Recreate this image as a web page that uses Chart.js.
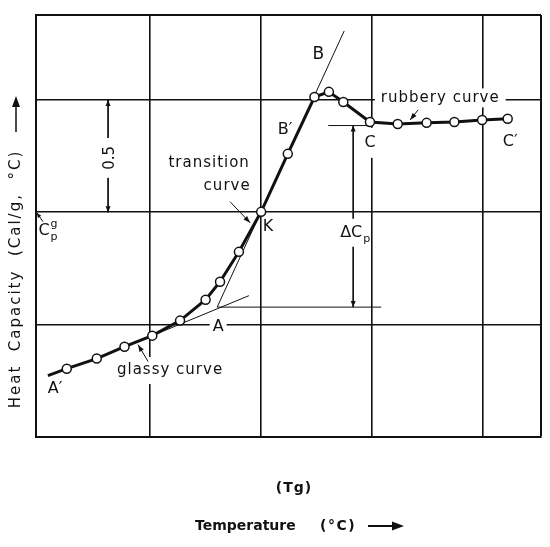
<!DOCTYPE html>
<html>
<head>
<meta charset="utf-8">
<script src="https://cdn.jsdelivr.net/npm/chart.js@4.4.1/dist/chart.umd.min.js"></script>
<style>
  html, body { margin: 0; padding: 0; background: #fff; }
</style>
</head>
<body>
<canvas id="chart" width="550" height="547"></canvas>
<script>
// heat capacity curve, temperature in grid units, Cp in cal/g.°C (0.5 per grid)
const curveTemp = [-0.92, -0.75, -0.48, -0.23, 0.02, 0.27, 0.5, 0.63, 0.8, 1.0,
                   1.24, 1.48, 1.61, 1.74, 1.98, 2.23, 2.49, 2.74, 2.99, 3.22];
const curveCp   = [-0.227, -0.196, -0.151, -0.098, -0.049, 0.018, 0.111, 0.191, 0.324, 0.502,
                   0.760, 1.013, 1.036, 0.991, 0.902, 0.893, 0.898, 0.902, 0.911, 0.916];

// construction lines
const glassyTangentTemp = [0.02, 0.89];
const glassyTangentCp = [-0.049, 0.129];
const transitionTangentTemp = [0.604, 1.748];
const transitionTangentCp = [0.078, 1.307];
const glassyLevelTemp = [0.604, 2.081];
const glassyLevelCp = [0.078, 0.078];
const rubberyLevelTemp = [1.604, 1.982];
const rubberyLevelCp = [0.886, 0.886];
const deltaCpTemp = [1.829, 1.829];
const deltaCpCp = [0.886, 0.078];
const scaleBarTemp = [-0.378, -0.378];
const scaleBarCp = [1.0, 0.5];

// label pointers
const transitionPointerTemp = [0.721, 0.901];
const transitionPointerCp = [0.547, 0.453];
const glassyPointerTemp = [-0.018, -0.108];
const glassyPointerCp = [-0.164, -0.089];
const rubberyPointerTemp = [2.414, 2.342];
const rubberyPointerCp = [0.956, 0.911];
const cpgPointerTemp = [-0.964, -1.02];
const cpgPointerCp = [0.458, 0.498];

// grid
const xGridTicks = [-1.027, 0, 1, 2, 3, 3.52];
const yGridTicks = [-0.5, 0, 0.5, 1.0, 1.378];

const INK = "#111";
const FONT = "'DejaVu Sans', sans-serif";

const zip = (xs, ys) => xs.map((x, i) => ({ x: x, y: ys[i] }));

function thinLine(xs, ys, extra) {
  return Object.assign({
    data: zip(xs, ys),
    showLine: true,
    borderColor: INK,
    borderWidth: 1,
    pointRadius: 0,
    pointHoverRadius: 0,
  }, extra || {});
}

// text annotations (positions in data units)
const annotations = [
  { text: "B", t: 1.514, cp: 1.2, size: 17 },
  { text: "B\u2032", t: 1.216, cp: 0.867, size: 16 },
  { text: "C", t: 1.982, cp: 0.809, size: 16, box: "under", padX: 3, padY: 7 },
  { text: "C\u2032", t: 3.243, cp: 0.813, size: 16 },
  { text: "K", t: 1.063, cp: 0.436, size: 16 },
  { text: "A", t: 0.613, cp: -0.009, size: 16, box: "under", padX: 3, padY: 2 },
  { text: "A\u2032", t: -0.856, cp: -0.284, size: 16 },
  { text: "transition", t: 0.532, cp: 0.72, size: 15, ls: 1 },
  { text: "curve", t: 0.694, cp: 0.618, size: 15, ls: 1 },
  { text: "rubbery curve", t: 2.613, cp: 1.009, size: 15, ls: 1, box: "under", padX: 6, padY: 2 },
  { text: "glassy curve", t: 0.18, cp: -0.204, size: 15, ls: 1, box: "under", padX: 2, padY: 6 },
  { text: "\u0394C", sub: "p", t: 1.847, cp: 0.409, size: 16, box: "over", padX: 0, padY: 6 },
  { text: "0.5", t: -0.36, cp: 0.742, size: 15, rotate: true, box: "over", padX: 8, padY: 2 },
  { text: "C", sub: "p", sup: "g", t: -0.919, cp: 0.418, size: 16 },
];

function setFont(ctx, size, weight) {
  ctx.font = (weight || "normal") + " " + size + "px " + FONT;
}

function labelWidth(ctx, a) {
  setFont(ctx, a.size);
  ctx.letterSpacing = (a.ls || 0) + "px";
  let w = ctx.measureText(a.text).width;
  if (a.sub || a.sup) {
    setFont(ctx, Math.round(a.size * 0.68));
    w += Math.max(ctx.measureText(a.sub || "").width, ctx.measureText(a.sup || "").width) + 1;
  }
  ctx.letterSpacing = "0px";
  return w;
}

function drawBox(ctx, a, x, y) {
  const w = labelWidth(ctx, a) + 2 * (a.padX || 0);
  const h = a.size + 2 * (a.padY || 0);
  ctx.save();
  ctx.translate(x, y);
  if (a.rotate) ctx.rotate(-Math.PI / 2);
  ctx.fillStyle = "#fff";
  ctx.fillRect(-w / 2, -h / 2, w, h);
  ctx.restore();
}

function drawLabel(ctx, a, x, y) {
  const w = labelWidth(ctx, a);
  ctx.save();
  ctx.translate(x, y);
  if (a.rotate) ctx.rotate(-Math.PI / 2);
  ctx.fillStyle = INK;
  ctx.textBaseline = "middle";
  ctx.textAlign = "left";
  setFont(ctx, a.size);
  ctx.letterSpacing = (a.ls || 0) + "px";
  ctx.fillText(a.text, -w / 2, 0);
  const mainW = ctx.measureText(a.text).width;
  ctx.letterSpacing = "0px";
  const small = Math.round(a.size * 0.68);
  setFont(ctx, small);
  if (a.sup) ctx.fillText(a.sup, -w / 2 + mainW + 1, -a.size * 0.38);
  if (a.sub) ctx.fillText(a.sub, -w / 2 + mainW + 1, a.size * 0.38);
  ctx.restore();
}

function drawHead(ctx, fx, fy, tx, ty, len, half) {
  const ang = Math.atan2(ty - fy, tx - fx);
  ctx.save();
  ctx.translate(tx, ty);
  ctx.rotate(ang);
  ctx.fillStyle = INK;
  ctx.beginPath();
  ctx.moveTo(0, 0);
  ctx.lineTo(-len, -half);
  ctx.lineTo(-len, half);
  ctx.closePath();
  ctx.fill();
  ctx.restore();
}

const annotationPlugin = {
  id: "annotations",
  beforeDatasetsDraw(chart) {
    const ctx = chart.ctx;
    const xs = chart.scales.x, ys = chart.scales.y;
    annotations.forEach((a) => {
      if (a.box === "under") drawBox(ctx, a, xs.getPixelForValue(a.t), ys.getPixelForValue(a.cp));
    });
  },
  afterDatasetsDraw(chart) {
    const ctx = chart.ctx;
    const xs = chart.scales.x, ys = chart.scales.y;

    // arrow heads on the ends of construction / pointer lines
    chart.data.datasets.forEach((ds, i) => {
      if (!ds.arrows) return;
      const p = chart.getDatasetMeta(i).data;
      ds.arrows.forEach((end) => {
        const tip = end === "start" ? p[0] : p[p.length - 1];
        const from = end === "start" ? p[1] : p[p.length - 2];
        drawHead(ctx, from.x, from.y, tip.x, tip.y, ds.headLen || 7, ds.headHalf || 2.5);
      });
    });

    annotations.forEach((a) => {
      const x = xs.getPixelForValue(a.t), y = ys.getPixelForValue(a.cp);
      if (a.box === "over") drawBox(ctx, a, x, y);
      drawLabel(ctx, a, x, y);
    });

    // axis titles
    const area = chart.chartArea;
    ctx.save();
    ctx.fillStyle = INK;
    ctx.strokeStyle = INK;
    ctx.textBaseline = "middle";

    // y title, rotated
    ctx.save();
    ctx.translate(area.left - 20, area.top + 264);
    ctx.rotate(-Math.PI / 2);
    setFont(ctx, 15);
    ctx.letterSpacing = "2px";
    ctx.textAlign = "center";
    ctx.fillText("Heat  Capacity  (Cal/g,  \u00B0C)", 0, 0);
    ctx.letterSpacing = "0px";
    ctx.lineWidth = 1.5;
    ctx.beginPath();
    ctx.moveTo(147, 0);
    ctx.lineTo(176, 0);
    ctx.stroke();
    drawHead(ctx, 147, 0, 183, 0, 11, 4);
    ctx.restore();

    // x titles
    setFont(ctx, 14, "bold");
    ctx.textAlign = "center";
    ctx.letterSpacing = "1px";
    ctx.fillText("(Tg)", 294, area.bottom + 51);
    ctx.textAlign = "left";
    ctx.letterSpacing = "0px";
    ctx.fillText("Temperature", 195, area.bottom + 89);
    ctx.letterSpacing = "1.5px";
    ctx.fillText("(\u00B0C)", 320, area.bottom + 89);
    ctx.letterSpacing = "0px";
    ctx.lineWidth = 2;
    ctx.beginPath();
    ctx.moveTo(368, area.bottom + 89);
    ctx.lineTo(394, area.bottom + 89);
    ctx.stroke();
    drawHead(ctx, 368, area.bottom + 89, 404, area.bottom + 89, 12, 4.5);
    ctx.restore();
  },
};

const ctx = document.getElementById("chart").getContext("2d");
new Chart(ctx, {
  type: "scatter",
  data: {
    datasets: [
      {
        data: zip(curveTemp, curveCp),
        showLine: true,
        borderColor: INK,
        borderWidth: 3,
        tension: 0,
        pointRadius: (c) => (c.dataIndex === 0 ? 0 : 4.5),
        pointHoverRadius: (c) => (c.dataIndex === 0 ? 0 : 4.5),
        pointBackgroundColor: "#fff",
        pointBorderColor: INK,
        pointBorderWidth: 1.5,
      },
      thinLine(glassyTangentTemp, glassyTangentCp),
      thinLine(transitionTangentTemp, transitionTangentCp),
      thinLine(glassyLevelTemp, glassyLevelCp),
      thinLine(rubberyLevelTemp, rubberyLevelCp),
      thinLine(deltaCpTemp, deltaCpCp, { arrows: ["start", "end"], headLen: 6, headHalf: 2.5 }),
      thinLine(scaleBarTemp, scaleBarCp, { arrows: ["start", "end"], headLen: 6, headHalf: 2.5 }),
      thinLine(transitionPointerTemp, transitionPointerCp, { arrows: ["end"] }),
      thinLine(glassyPointerTemp, glassyPointerCp, { arrows: ["end"] }),
      thinLine(rubberyPointerTemp, rubberyPointerCp, { arrows: ["end"] }),
      thinLine(cpgPointerTemp, cpgPointerCp, { arrows: ["end"], headLen: 5, headHalf: 2 }),
    ],
  },
  options: {
    responsive: false,
    animation: false,
    layout: { padding: { left: 36, right: 9, top: 15, bottom: 110 } },
    plugins: {
      legend: { display: false },
      tooltip: { enabled: false },
    },
    scales: {
      x: {
        type: "linear",
        min: xGridTicks[0],
        max: xGridTicks[xGridTicks.length - 1],
        afterBuildTicks: (s) => { s.ticks = xGridTicks.map((v) => ({ value: v })); },
        ticks: { display: false },
        grid: {
          color: INK,
          lineWidth: (c) => (c.index === xGridTicks.length - 1 ? 2 : 1.6),
          drawTicks: false,
        },
        border: { display: true, color: INK, width: 2 },
      },
      y: {
        type: "linear",
        min: yGridTicks[0],
        max: yGridTicks[yGridTicks.length - 1],
        afterBuildTicks: (s) => { s.ticks = yGridTicks.map((v) => ({ value: v })); },
        ticks: { display: false },
        grid: {
          color: INK,
          lineWidth: (c) => (c.index === yGridTicks.length - 1 ? 2 : 1.6),
          drawTicks: false,
        },
        border: { display: true, color: INK, width: 2 },
      },
    },
  },
  plugins: [annotationPlugin],
});
</script>
</body>
</html>
